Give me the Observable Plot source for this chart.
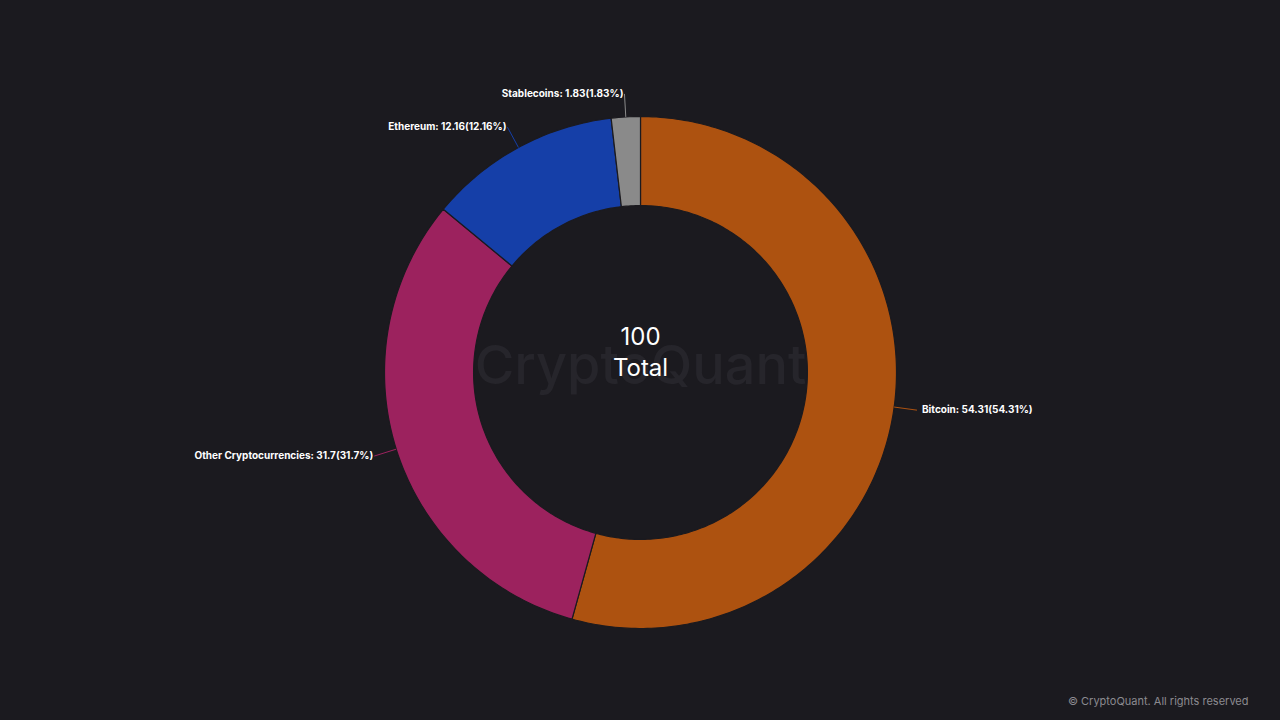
<!DOCTYPE html>
<html>
<head>
<meta charset="utf-8">
<script src="https://cdn.jsdelivr.net/npm/d3@7"></script>
<script src="https://cdn.jsdelivr.net/npm/@observablehq/plot@0.6"></script>
<style>
  html, body { margin: 0; padding: 0; background: #1b1a1f; }
  #chart { width: 1280px; height: 720px; }
</style>
</head>
<body>
<div id="chart"></div>
<script>
const categories = ["Bitcoin", "Other Cryptocurrencies", "Ethereum", "Stablecoins"];
const values = [54.31, 31.7, 12.16, 1.83];
const colors = ["#ad5210", "#9c225e", "#153fa8", "#8a8a8a"];
const centerLabel = "Total";
const watermark = "CryptoQuant";
const copyright = "© CryptoQuant. All rights reserved";

const bg = "#1b1a1f";
const innerR = 0.652;
const labelR = 1.09;
const total = d3.sum(values);

// build slices (angles clockwise from 12 o'clock)
let acc = 0;
const slices = categories.map((c, i) => {
  const a0 = acc / total * 2 * Math.PI;
  acc += values[i];
  const a1 = acc / total * 2 * Math.PI;
  return {category: c, value: values[i], color: colors[i], a0, a1, mid: (a0 + a1) / 2};
});

const polyPts = [];
for (const s of slices) {
  const n = Math.max(4, Math.ceil((s.a1 - s.a0) / (2 * Math.PI) * 400));
  const pts = [];
  for (let k = 0; k <= n; k++) {
    const a = s.a0 + (s.a1 - s.a0) * k / n;
    pts.push({category: s.category, x: Math.sin(a), y: Math.cos(a)});
  }
  for (let k = n; k >= 0; k--) {
    const a = s.a0 + (s.a1 - s.a0) * k / n;
    pts.push({category: s.category, x: innerR * Math.sin(a), y: innerR * Math.cos(a)});
  }
  pts.push({...pts[0]});
  polyPts.push(...pts);
}

const labels = slices.map(s => ({
  category: s.category,
  color: s.color,
  x1: Math.sin(s.mid), y1: Math.cos(s.mid),
  x2: labelR * Math.sin(s.mid), y2: labelR * Math.cos(s.mid),
  right: Math.sin(s.mid) >= 0,
  text: `${s.category}: ${s.value}(${+(s.value / total * 100).toFixed(2)}%)`
}));

const W = 1280, H = 720, R = 256, cx = 640, cy = 372;

const chart = Plot.plot({
  width: W, height: H,
  margin: 0,
  style: {background: bg, fontFamily: "Inter, 'Noto Sans', sans-serif"},
  x: {domain: [-cx / R, (W - cx) / R], axis: null},
  y: {domain: [-(H - cy) / R, cy / R], axis: null},
  color: {domain: categories, range: colors},
  marks: [
    Plot.text([watermark], {x: 0, y: 0, text: d => d, dy: -6, fontSize: 54, fontWeight: 500, fill: "#26252b", fontFamily: "Inter, sans-serif"}),
    Plot.line(polyPts, {x: "x", y: "y", z: "category", fill: "category", stroke: bg, strokeWidth: 1.2, curve: "linear"}),
    Plot.link(labels, {x1: "x1", y1: "y1", x2: "x2", y2: "y2", stroke: "color", strokeWidth: 1}),
    Plot.text(labels.filter(d => d.right), {x: "x2", y: "y2", text: "text", textAnchor: "start", dx: 5, fill: "#ffffff", fontSize: 10, fontWeight: 700}),
    Plot.text(labels.filter(d => !d.right), {x: "x2", y: "y2", text: "text", textAnchor: "end", dx: -1, fill: "#ffffff", fontSize: 10, fontWeight: 700}),
    Plot.text([total], {x: 0, y: 0, text: d => String(+d.toFixed(2)), dy: -35, fill: "#ffffff", fontSize: 24}),
    Plot.text([centerLabel], {x: 0, y: 0, text: d => d, dy: -4, fill: "#ffffff", fontSize: 24}),
    Plot.text([copyright], {frameAnchor: "bottom-right", text: d => d, dx: -32, dy: -16, fill: "#8b8a90", fontSize: 11})
  ]
});
document.getElementById("chart").appendChild(chart);
</script>
</body>
</html>
